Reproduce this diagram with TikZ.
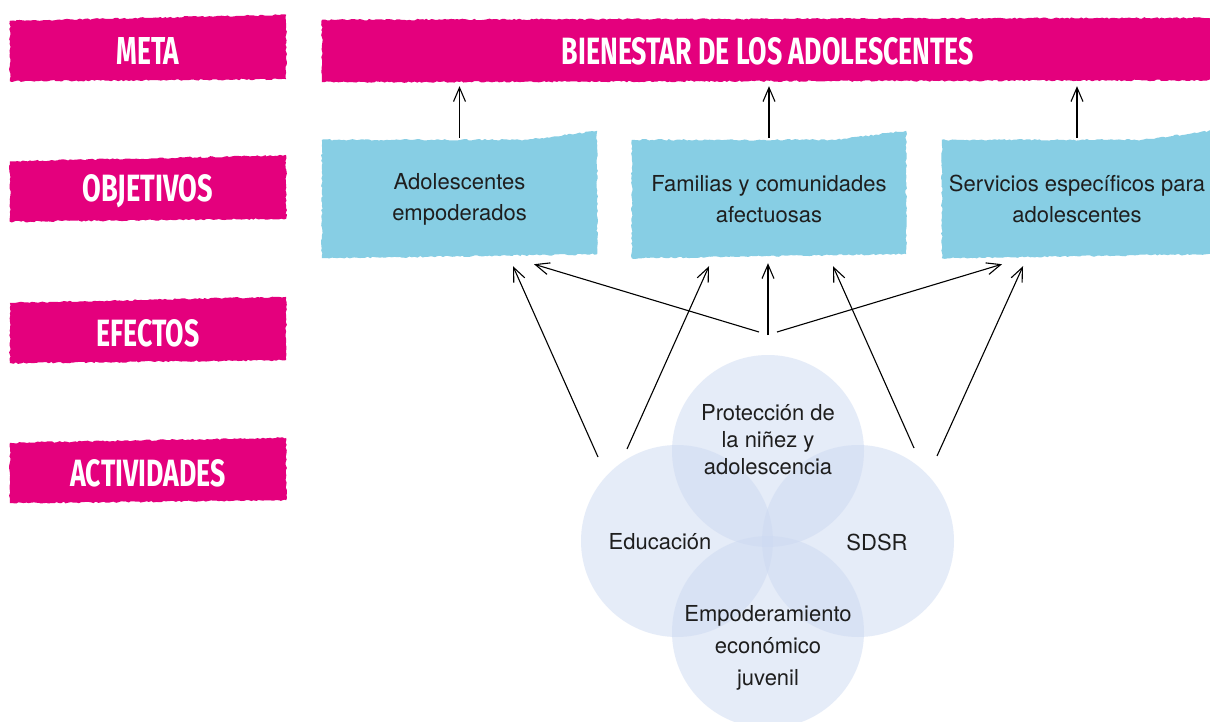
\documentclass[tikz,border=0pt]{standalone}
\usepackage{fontspec}
\setmainfont{TeX Gyre Heros}
\newfontfamily\lblfont{Fira Sans}
\usetikzlibrary{arrows.meta,decorations.pathmorphing,backgrounds,calc}
\definecolor{pinkc}{RGB}{228,0,125}
\definecolor{bluec}{RGB}{135,206,228}
\definecolor{circc}{RGB}{205,218,242}
\definecolor{txtc}{RGB}{30,30,30}
\newcommand\lbltext[2]{\resizebox{#1}{27pt}{\lblfont\bfseries #2}}
\begin{document}
\begin{tikzpicture}[x=1pt,y=-1pt,
  rough/.style={decorate,decoration={random steps,segment length=2.5pt,amplitude=0.8pt}},
  lbl/.style={minimum width=276pt,minimum height=60pt,inner sep=0pt,text=white},
  obj/.style={minimum width=275pt,minimum height=118pt,inner sep=0pt,text=txtc,align=center,font=\fontsize{22}{31}\selectfont},
  ring/.style={circle,minimum size=192pt,inner sep=0pt,fill=circc,fill opacity=0.5},
  ctext/.style={text=txtc,align=center,font=\fontsize{22}{27}\selectfont},
  arr/.style={-{Straight Barb[length=14pt,width=12pt]},line width=1.1pt,black}]
\useasboundingbox (0,0) rectangle (1210,722);

% left labels
\node[lbl] (meta) at (148,51) {\lbltext{63pt}{META}};
\node[lbl] (objet) at (148,191.5) {\lbltext{130pt}{OBJETIVOS}};
\node[lbl] (efec) at (148,333) {\lbltext{103pt}{EFECTOS}};
\node[lbl] (activ) at (148,473) {\lbltext{155pt}{ACTIVIDADES}};
% goal banner
\node[lbl,minimum width=892pt,minimum height=62pt] (goal) at (768,51) {\lbltext{412pt}{BIENESTAR DE LOS ADOLESCENTES}};

% objective boxes
\node[obj] (b1) at (459.5,199) {Adolescentes\\empoderados};
\node[obj,minimum width=274pt] (b2) at (769,199) {Familias y comunidades\\afectuosas};
\node[obj,minimum width=270pt] (b3) at (1077,199) {Servicios específicos para\\adolescentes};

\begin{scope}[on background layer]
  \fill[white] (0,0) rectangle (1210,722);
  \foreach \n/\a/\b in {meta/6/2,objet/6/3,efec/6/3,activ/5/3,goal/2/2}{
    \fill[pinkc,rough] (\n.south west) -- (\n.north west) -- ([yshift=\a pt]\n.north east) -- ([yshift=\b pt]\n.south east) -- cycle;
  }
  \foreach \n in {b1,b2,b3}{
    \fill[bluec,rough] (\n.south west) -- (\n.north west) -- ([xshift=-70pt]\n.north east) -- ([yshift=9pt]\n.north east) -- ([yshift=4pt]\n.south east) -- cycle;
  }
\end{scope}

% circles
\node[ring] (prot) at (768,451) {};
\node[ring] (edu) at (677,541) {};
\node[ring] (sdsr) at (858,541) {};
\node[ring] (emp) at (768,632) {};
\node[ctext] (tprot) at (768,440) {Protección de\\la niñez y\\adolescencia};
\node[ctext] (tedu) at (660,542) {Educación};
\node[ctext] (tsdsr) at (877,542) {SDSR};
\node[ctext,font=\fontsize{22}{32}\selectfont] (temp) at (768,648) {Empoderamiento\\económico\\juvenil};

% arrows objectives -> goal
\foreach \n in {b1,b2,b3}{
  \draw[arr,shorten >=4pt] ([yshift=2pt]\n.north) -- (\n.north |- goal.south);
}

% arrows activities -> objectives
\coordinate (s1) at (598,457);
\coordinate (s2) at (627,449);
\coordinate (s0) at (768,335);
\coordinate (sl) at (759,332);
\coordinate (sr) at (777,332);
\coordinate (s3) at (914,448);
\coordinate (s4) at (937,456);
\draw[arr] (s1) -- ([xshift=53.5pt,yshift=-8pt]b1.south);
\draw[arr] (sl) -- ([xshift=74.5pt,yshift=-6pt]b1.south);
\draw[arr] (s2) -- ([xshift=-60pt,yshift=-8pt]b2.south);
\draw[arr] (s0) -- ([xshift=-1pt,yshift=-5pt]b2.south);
\draw[arr] (s3) -- ([xshift=64pt,yshift=-8pt]b2.south);
\draw[arr] (sr) -- ([xshift=-75pt,yshift=-6pt]b3.south);
\draw[arr] (s4) -- ([xshift=-54pt,yshift=-8pt]b3.south);
\end{tikzpicture}
\end{document}
